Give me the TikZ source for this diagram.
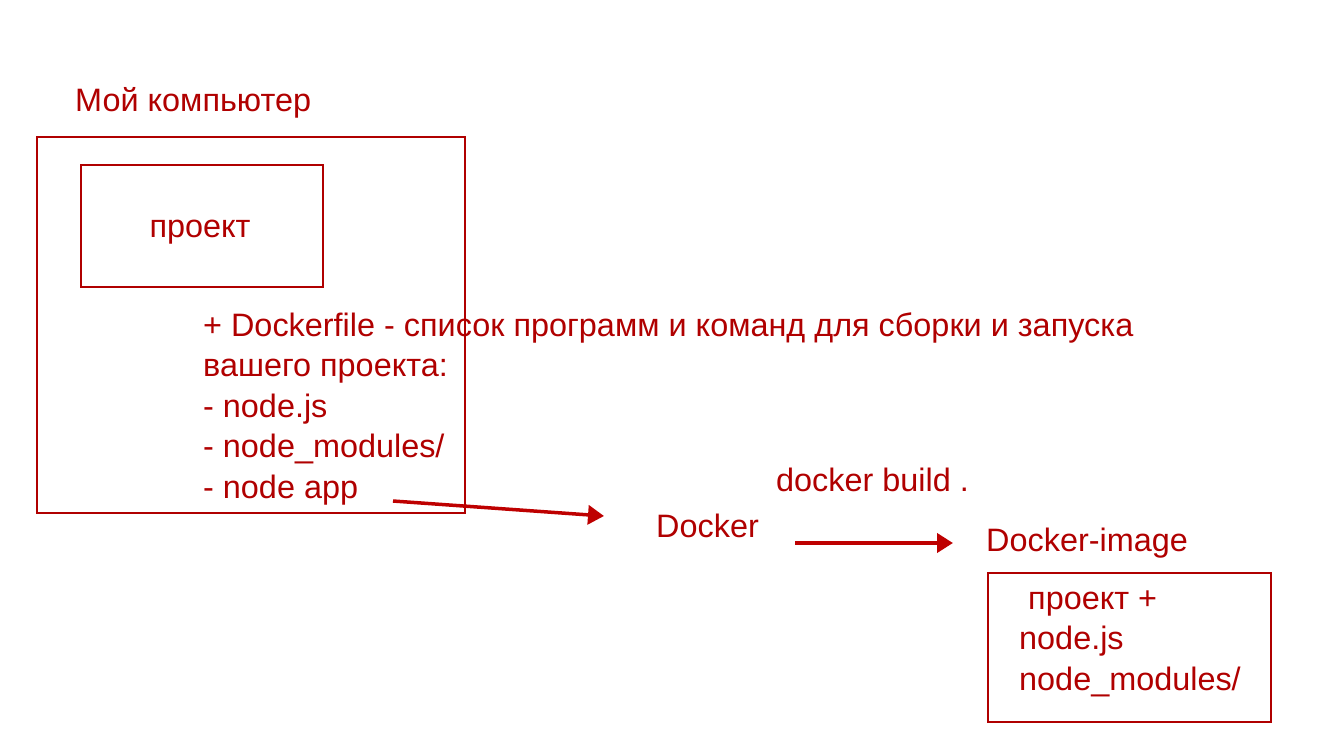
\documentclass[tikz,border=0pt]{standalone}
\usepackage{fontspec}
\setmainfont{Liberation Sans}
\usetikzlibrary{arrows.meta}
\definecolor{slidered}{RGB}{176,0,0}
\definecolor{arrowred}{RGB}{190,0,0}

\begin{document}
\begin{tikzpicture}[x=1pt,y=-1pt]
  \tikzstyle{every node}=[font=\fontsize{32.4}{40.5}\selectfont,text=slidered,inner sep=0]
  \tikzstyle{frame}=[draw=slidered,line width=2pt]
  \tikzstyle{flow}=[draw=arrowred,line width=4pt,-{Triangle[length=16pt,width=19pt]}]
  \useasboundingbox (0,0) rectangle (1341,739);
  % boxes
  \node[frame,minimum width=428,minimum height=376] (pc) at (251,325) {};
  \node[frame,minimum width=242,minimum height=122] (proj) at (202,226) {};
  \node[frame,minimum width=283,minimum height=149] (image) at (1129.5,647.5) {};
  % texts
  \node[anchor=base west] (pctitle) at (75,111) {Мой компьютер};
  \node[anchor=base] (projtext) at (200,237) {проект};
  \node[anchor=base west,align=left] (dockerfile) at (203,498)
    {+ Dockerfile - список программ и команд для сборки и запуска\\
     вашего проекта:\\- node.js\\- node\_modules/\\- node app};
  \node[anchor=base west] (build) at (776,491) {docker build .};
  \node[anchor=base west] (docker) at (656,537) {Docker};
  \node[anchor=base west] (imagetitle) at (986,551) {Docker-image};
  \node[anchor=base west,align=left] (imagetext) at (1019,690)
    {\hspace*{9pt}проект +\\node.js\\node\_modules/};
  % arrows
  \coordinate (appout) at (393,501);
  \coordinate (dockin) at (604,516);
  \coordinate (dockout) at (795,543);
  \coordinate (imagein) at (953,543);
  \draw[flow,line width=3.5pt] (appout) -- (dockin);
  \draw[flow] (dockout) -- (imagein);
\end{tikzpicture}
\end{document}
